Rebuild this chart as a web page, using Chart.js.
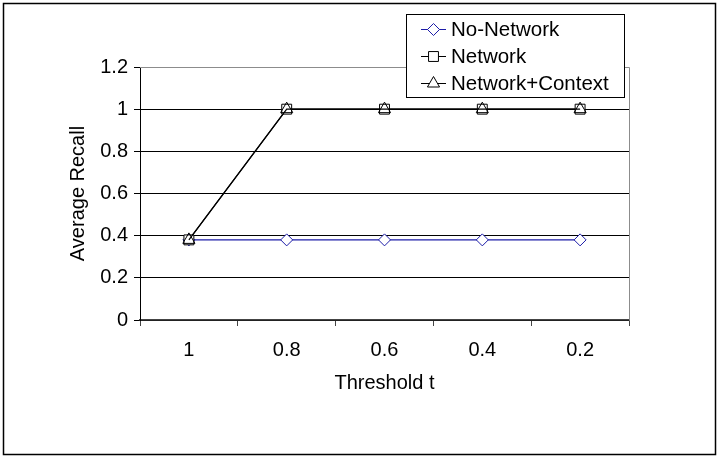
<!DOCTYPE html>
<html>
<head>
<meta charset="utf-8">
<title>Average Recall vs Threshold</title>
<script src="https://cdn.jsdelivr.net/npm/chart.js@4.4.1/dist/chart.umd.min.js"></script>
<style>
  html, body { margin: 0; padding: 0; background: #fff; }
  #wrap { width: 719px; height: 458px; position: relative; }
</style>
</head>
<body>
<div id="wrap"><canvas id="chart" width="719" height="458"></canvas></div>
<script>
// Threshold categories (x axis) and recall series
const thresholds = ['1', '0.8', '0.6', '0.4', '0.2'];
const noNetwork = [0.38, 0.38, 0.38, 0.38, 0.38];
const network = [0.38, 1, 1, 1, 1];
const networkContext = [0.38, 1, 1, 1, 1];
const seriesNames = ['No-Network', 'Network', 'Network+Context'];

const FONT = "'Liberation Sans', Arial, sans-serif";
const FS = 20;
const LEGEND_FS = 20.5;

// Frame, plot-area border and boxed legend
const decorations = {
  id: 'decorations',
  beforeDraw(chart) {
    const { ctx, width, height } = chart;
    ctx.save();
    ctx.fillStyle = '#fff';
    ctx.fillRect(0, 0, width, height);
    ctx.restore();
  },
  afterDatasetsDraw(chart) {
    const { ctx, chartArea: a } = chart;
    ctx.save();
    // plot area border (top/right)
    ctx.strokeStyle = '#8c8c8c';
    ctx.lineWidth = 1;
    ctx.beginPath();
    ctx.moveTo(a.left, a.top + 0.5);
    ctx.lineTo(a.right + 0.5, a.top + 0.5);
    ctx.lineTo(a.right + 0.5, a.bottom);
    ctx.stroke();
    ctx.restore();
  },
  afterDraw(chart) {
    const { ctx, width, height } = chart;
    ctx.save();
    // outer frame
    ctx.strokeStyle = '#000';
    ctx.lineWidth = 1.5;
    ctx.strokeRect(3.5, 3.5, width - 7, height - 7);

    // legend box
    const bx = 406.5, by = 14.5, bw = 218, bh = 83;
    ctx.fillStyle = '#fff';
    ctx.fillRect(bx, by, bw, bh);
    ctx.strokeStyle = '#000';
    ctx.lineWidth = 1;
    ctx.strokeRect(bx, by, bw, bh);

    ctx.font = LEGEND_FS + 'px ' + FONT;
    ctx.textBaseline = 'middle';
    ctx.textAlign = 'left';
    chart.data.datasets.forEach((ds, i) => {
      const y = 29 + i * 27;
      ctx.strokeStyle = ds.borderColor;
      ctx.lineWidth = 1;
      ctx.beginPath();
      ctx.moveTo(421, y + 0.5);
      ctx.lineTo(446, y + 0.5);
      ctx.stroke();
      // hollow marker in the series colour
      ctx.fillStyle = '#fff';
      ctx.strokeStyle = ds.pointBorderColor;
      Chart.helpers.drawPoint(ctx, {
        pointStyle: ds.pointStyle,
        radius: ds.pointRadius,
        borderWidth: 1
      }, 433.5, y + 0.5);
      ctx.fillStyle = '#000';
      ctx.fillText(seriesNames[i], 451, y + 1);
    });
    ctx.restore();
  }
};

const fmtTick = (v) => String(Math.round(v * 10) / 10);

const ctx = document.getElementById('chart').getContext('2d');
new Chart(ctx, {
  type: 'line',
  data: {
    labels: thresholds,
    datasets: [
      {
        label: seriesNames[0],
        data: noNetwork,
        borderColor: '#1c1ca8',
        backgroundColor: '#fff',
        pointBackgroundColor: '#fff',
        pointBorderColor: '#1c1ca8',
        borderWidth: 1.2,
        pointStyle: 'rectRot',
        pointRadius: 6,
        pointBorderWidth: 1,
        order: 3
      },
      {
        label: seriesNames[1],
        data: network,
        borderColor: '#000',
        backgroundColor: '#fff',
        pointBackgroundColor: '#fff',
        pointBorderColor: '#000',
        borderWidth: 1.2,
        pointStyle: 'rect',
        pointRadius: 7,
        pointBorderWidth: 1,
        order: 2
      },
      {
        label: seriesNames[2],
        data: networkContext,
        borderColor: '#000',
        backgroundColor: 'rgba(0,0,0,0)',
        pointBackgroundColor: 'rgba(0,0,0,0)',
        pointBorderColor: '#000',
        borderWidth: 1.2,
        pointStyle: 'triangle',
        pointRadius: 7,
        pointBorderWidth: 1,
        order: 1
      }
    ]
  },
  options: {
    responsive: false,
    animation: false,
    devicePixelRatio: 1,
    layout: { padding: { left: 59, right: 90, top: 67, bottom: 0 } },
    plugins: {
      legend: { display: false },
      tooltip: { enabled: false }
    },
    scales: {
      x: {
        type: 'category',
        offset: true,
        grid: {
          offset: true,
          drawOnChartArea: false,
          drawTicks: true,
          tickLength: 6,
          color: '#444',
          tickColor: '#444'
        },
        border: { display: true, color: '#444', width: 1.5 },
        ticks: {
          color: '#000',
          padding: 12,
          font: { family: FONT, size: FS }
        },
        title: {
          display: true,
          text: 'Threshold t',
          color: '#000',
          font: { family: FONT, size: FS },
          padding: { top: 4, bottom: 63 }
        },
        afterFit(scale) { scale.height = 138; }
      },
      y: {
        min: 0,
        max: 1.2,
        ticks: {
          stepSize: 0.2,
          color: '#000',
          padding: 6,
          font: { family: FONT, size: FS },
          callback: fmtTick
        },
        grid: {
          color: (c) => (c.tick && c.tick.value >= 1.2 ? '#8c8c8c' : '#000'),
          tickColor: '#000',
          lineWidth: 1,
          tickLength: 6
        },
        border: { display: true, color: '#000', width: 1 },
        title: {
          display: true,
          text: 'Average Recall',
          color: '#000',
          font: { family: FONT, size: FS },
          padding: { top: 7, bottom: 4 }
        },
        afterFit(scale) { scale.width = 81; }
      }
    }
  },
  plugins: [decorations]
});
</script>
</body>
</html>
